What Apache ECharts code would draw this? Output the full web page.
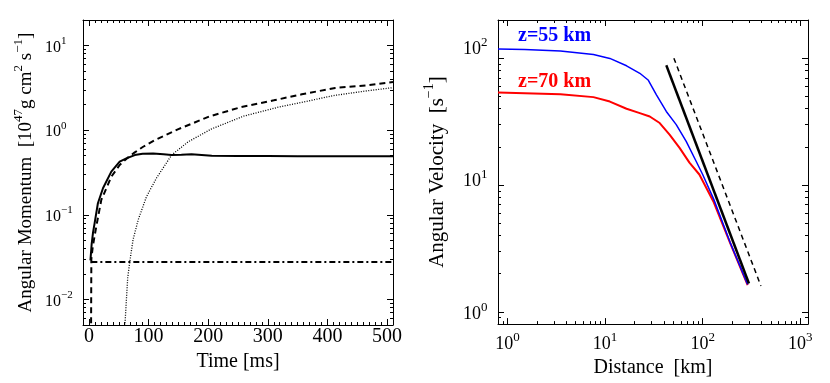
<!DOCTYPE html>
<html>
<head>
<meta charset="utf-8">
<title>Angular momentum / angular velocity</title>
<script src="https://cdn.jsdelivr.net/npm/echarts@6/dist/echarts.min.js"></script>
<style>
  html, body { margin: 0; padding: 0; background: #fff; }
  #chart { width: 830px; height: 383px; }
</style>
</head>
<body>
<div id="chart"></div>
<script>
// ---- left panel: angular momentum vs time ----
const solidTime = [2.5, 4.5, 6.7, 9.5, 15, 23.5, 37.5, 51.5, 62.8, 76.8, 90, 107.7, 125, 138.6, 155, 172, 206, 250, 300, 350, 400, 450, 510]
const solidMom = [0.029, 0.045, 0.061, 0.08, 0.137, 0.206, 0.324, 0.424, 0.464, 0.508, 0.525, 0.531, 0.52, 0.508, 0.512, 0.518, 0.499, 0.494, 0.494, 0.493, 0.493, 0.492, 0.492]

const dashTime = [3.5, 4, 6, 8.4, 12.3, 20.7, 37.5, 51.5, 65.6, 76.8, 90.9, 110.4, 150, 203, 255, 310, 357, 413, 464, 510]
const dashMom = [0.004, 0.03, 0.04, 0.051, 0.073, 0.15, 0.282, 0.388, 0.477, 0.546, 0.637, 0.763, 1.03, 1.46, 1.87, 2.25, 2.65, 3.15, 3.38, 3.7]

const dotTime = [59.5, 61, 62.8, 65, 68.4, 74, 82.5, 96.5, 113, 138.6, 166.6, 205, 259, 315, 413, 464, 510]
const dotMom = [0.004, 0.006, 0.01, 0.018, 0.0278, 0.051, 0.087, 0.164, 0.27, 0.508, 0.73, 1.03, 1.46, 1.85, 2.58, 2.9, 3.18]

const dashDotTime = [4, 510]
const dashDotMom = [0.0278, 0.0278]

// ---- right panel: angular velocity vs distance ----
const blueDist = [0.8, 1.5, 3.49, 7.6, 11.2, 16.6, 22.7, 27.6, 33.6, 42.4, 53.6, 67.8, 85.7, 100, 130, 191, 289]
const blueVel = [118, 117, 114, 107, 99.6, 87.1, 76, 67.3, 51.4, 38, 29.9, 22.1, 15.4, 12.1, 7.7, 3.53, 1.64]

const redDist = [0.8, 3.49, 7.6, 11.2, 16.6, 22.7, 28.7, 36.3, 45.8, 58, 73.2, 92.5, 130, 191, 289]
const redVel = [53.6, 52, 49.3, 45.5, 39.9, 36.9, 34.7, 30.8, 25, 19.6, 15, 12.1, 7.3, 3.5, 1.62]

const fitDist = [42.4, 298]
const fitVel = [88, 1.67]
const fit2Dist = [50.7, 395]
const fit2Vel = [100, 1.6]

const pairs = (xs, ys) => xs.map((x, i) => [x, ys[i]])

const FONT = 'Liberation Serif'

// 10^n style labels
const expOf = v => Math.round(Math.log10(v))
const expText = e => (e < 0 ? '\u2212' + (-e) : String(e))
const pow10 = v => '{b|10}{e|' + expText(expOf(v)) + '}'

// rich styles for "10" + raised exponent; lift moves the whole label up (per variant)
const supRich = (size, lift) => {
  const r = {}
  const es = Math.round(size * 0.7)
  const raise = size + 4 - es
  ;[0, 1, 2].forEach(k => {
    const l = lift ? lift[k] : 0
    r['b' + (k || '')] = { fontSize: size, fontFamily: FONT, color: '#000', lineHeight: size + 4, verticalAlign: 'bottom', padding: [0, 0, l, 0] }
    r['e' + (k || '')] = { fontSize: es, fontFamily: FONT, color: '#000', lineHeight: es, verticalAlign: 'bottom', padding: [0, 0, raise + l, 0] }
  })
  return r
}
// right panel y labels sit a little above their ticks, more so near the top
const velLabel = v => {
  const e = expOf(v)
  const k = e > 0 ? e : ''
  return '{b' + k + '|10}{e' + k + '|' + expText(e) + '}'
}

const baseAxis = (extra) => Object.assign({
  axisLine: { show: true, onZero: false, lineStyle: { color: '#000', width: 1 } },
  axisTick: { show: true, inside: true, length: 6, lineStyle: { color: '#000' } },
  minorTick: { show: true, length: 3, lineStyle: { color: '#000' } },
  splitLine: { show: false },
  minorSplitLine: { show: false }
}, extra)

const mirror = (a) => {
  const m = JSON.parse(JSON.stringify(a))
  m.axisLabel = { show: false }
  m.name = ''
  return m
}

// left x (time)
const timeAxis = baseAxis({
  type: 'value', gridIndex: 0, min: -10, max: 510, splitNumber: 5,
  position: 'bottom',
  minorTick: { show: true, splitNumber: 10, length: 3, lineStyle: { color: '#000' } },
  axisLabel: { showMinLabel: false, showMaxLabel: false, margin: 2, fontSize: 20, fontFamily: FONT, color: '#000' },
  name: 'Time [ms]', nameLocation: 'middle', nameGap: 23,
  nameTextStyle: { fontSize: 20, fontFamily: FONT, color: '#000' }
})
// left y (momentum)
const momAxis = baseAxis({
  type: 'log', gridIndex: 0, min: 0.005, max: 20, splitNumber: 3, logBase: 10,
  position: 'left',
  minorTick: { show: true, splitNumber: 9, length: 3, lineStyle: { color: '#000' } },
  axisLabel: { showMinLabel: false, showMaxLabel: false, align: 'left', margin: 38, formatter: pow10, rich: supRich(16) },
  name: '{n|Angular Momentum  [10}{s|47}{n|g cm}{s|2}{n| s}{s|\u22121}{n|]}',
  nameLocation: 'middle', nameGap: 47, nameRotate: 90,
  nameTextStyle: {
    rich: {
      n: { fontSize: 19, fontFamily: FONT, color: '#000', lineHeight: 24, verticalAlign: 'bottom' },
      s: { fontSize: 13, fontFamily: FONT, color: '#000', lineHeight: 13, verticalAlign: 'top' }
    }
  }
})
// right x (distance)
const distAxis = baseAxis({
  type: 'log', gridIndex: 1, min: 0.8, max: 1200, splitNumber: 3, logBase: 10,
  position: 'bottom',
  minorTick: { show: true, splitNumber: 9, length: 3, lineStyle: { color: '#000' } },
  axisLabel: { showMinLabel: false, showMaxLabel: false, margin: 7, formatter: pow10, rich: supRich(18) },
  name: 'Distance  [km]', nameLocation: 'middle', nameGap: 26,
  nameTextStyle: { fontSize: 20, fontFamily: FONT, color: '#000' }
})
// right y (velocity)
const velAxis = baseAxis({
  type: 'log', gridIndex: 1, min: 0.8, max: 200, splitNumber: 2, logBase: 10,
  position: 'left',
  minorTick: { show: true, splitNumber: 9, length: 3, lineStyle: { color: '#000' } },
  axisLabel: { showMinLabel: false, showMaxLabel: false, align: 'left', margin: 35, formatter: velLabel, rich: supRich(18, [0, 6, 11]) },
  name: '{n|Angular Velocity  [s}{s|\u22121}{n|]}',
  nameLocation: 'middle', nameGap: 50, nameRotate: 90,
  nameTextStyle: {
    rich: {
      n: { fontSize: 21, fontFamily: FONT, color: '#000', lineHeight: 26, verticalAlign: 'bottom' },
      s: { fontSize: 14, fontFamily: FONT, color: '#000', lineHeight: 14, verticalAlign: 'top' }
    }
  }
})

const timeTop = Object.assign(mirror(timeAxis), { position: 'top' })
const momRight = Object.assign(mirror(momAxis), { position: 'right' })
const distTop = Object.assign(mirror(distAxis), { position: 'top' })
const velRight = Object.assign(mirror(velAxis), { position: 'right' })

const line = (name, data, xi, yi, style) => ({
  name, type: 'line', xAxisIndex: xi, yAxisIndex: yi, data,
  showSymbol: false, symbol: 'none', clip: true, smooth: false,
  lineStyle: style, silent: true, animation: false
})

const chart = echarts.init(document.getElementById('chart'))

chart.setOption({
  backgroundColor: '#fff',
  animation: false,
  grid: [
    { left: 83, top: 20, width: 310, height: 305 },
    { left: 498, top: 20, width: 310, height: 305 }
  ],
  xAxis: [timeAxis, distAxis, timeTop, distTop],
  yAxis: [momAxis, velAxis, momRight, velRight],
  graphic: [
    { type: 'text', left: 518, top: 26, style: { text: 'z=55 km', fill: '#0000ff', font: 'bold 20px "Liberation Serif"' } },
    { type: 'text', left: 518, top: 72, style: { text: 'z=70 km', fill: '#ff0000', font: 'bold 20px "Liberation Serif"' } }
  ],
  series: [
    line('dashdot', pairs(dashDotTime, dashDotMom), 0, 0, { color: '#000', width: 2, type: [6, 3, 2, 3] }),
    line('dotted', pairs(dotTime, dotMom), 0, 0, { color: '#000', width: 1.3, type: [1, 1.5] }),
    line('dashed', pairs(dashTime, dashMom), 0, 0, { color: '#000', width: 2, type: [6, 4] }),
    line('solid', pairs(solidTime, solidMom), 0, 0, { color: '#000', width: 2, type: 'solid' }),
    line('z=70 km', pairs(redDist, redVel), 1, 1, { color: '#ff0000', width: 2, type: 'solid' }),
    line('z=55 km', pairs(blueDist, blueVel), 1, 1, { color: '#0000ff', width: 1.5, type: 'solid' }),
    line('r^-2 dashed', pairs(fit2Dist, fit2Vel), 1, 1, { color: '#000', width: 1.5, type: [5, 4] }),
    line('r^-2', pairs(fitDist, fitVel), 1, 1, { color: '#000', width: 2.5, type: 'solid' })
  ]
})
</script>
</body>
</html>
